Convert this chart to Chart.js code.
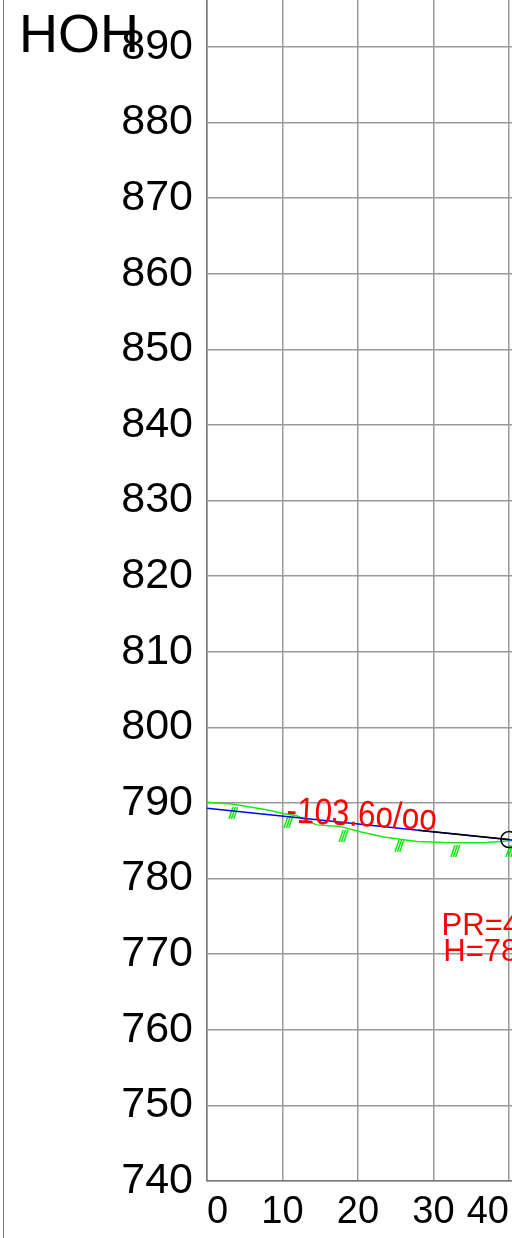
<!DOCTYPE html>
<html>
<head>
    <meta charset="utf-8">
    <script src="https://cdn.jsdelivr.net/npm/chart.js"></script>
    <title>HOH</title>
    <style type="text/css">
        body {
            margin: 0;
            background: #ffffff;
            overflow: hidden;
        }
        .wrap {
            position: relative;
            width: 512px;
            height: 1238px;
        }
        .frame {
            position: absolute;
            left: 3px;
            top: 0;
            width: 1px;
            height: 1238px;
            background: #777777;
        }
        .title {
            position: absolute;
            left: 19px;
            top: 6px;
            font-family: "Liberation Sans", Arial, sans-serif;
            font-size: 54px;
            line-height: 54px;
            color: #000000;
            z-index: 2;
        }
        canvas {
            position: absolute;
            left: 0;
            top: 0;
        }
    </style>
    <script type="text/javascript">
        // ground (green)
        var terrainX = [0, 3.3, 7.9, 10.1, 11.9, 14.5, 17.6, 20.3, 23.4, 27.8, 32.2, 36.6, 40.1, 40.4];
        var terrainY = [790.1, 789.87, 789.1, 788.6, 788.3, 787.1, 786.9, 786.2, 785.5, 784.9, 784.75, 784.75, 785.0, 785.05];
        // design grade (blue) and the black piece before the vertex
        var designX = [0, 40.4];
        var designY = [789.3, 785.11];
        var blackX = [28, 40];
        var blackY = [786.4, 785.16];
        // vertex circle
        var vertexX = [40];
        var vertexY = [785.16];
        // hatch marks under the ground line
        var hatchX = [3.3, 10.6, 17.9, 25.3, 32.7, 40.0];
        var hatchY = [789.47, 788.28, 786.43, 785.11, 784.44, 784.44];
        // ticks
        var xTicks = [0, 10, 20, 30, 40];
        var yTicks = [740, 750, 760, 770, 780, 790, 800, 810, 820, 830, 840, 850, 860, 870, 880, 890];
        // labels
        var slopeText = '-103.6o/oo';
        var slopeAt = [10.46, 787.45];
        var vertexText = ['PR=40.00', 'H=785.16'];
        var vertexTextY = [772.54, 769.1];
    </script>
</head>
<body>
    <div class="wrap">
        <div class="frame"></div>
        <div class="title">HOH</div>
        <canvas id="myChart" width="512" height="1238"></canvas>
    </div>

    <script>
        var FONT = '"Liberation Sans", Arial, sans-serif';

        function pts(xs, ys) {
            return xs.map(function (x, i) { return { x: x, y: ys[i] }; });
        }

        function noPad(s) {
            s.paddingTop = 0;
            s.paddingBottom = 0;
            s.paddingLeft = 0;
            s.paddingRight = 0;
        }

        // small "///" mark, top of the strokes at the centre of the canvas
        var hatch = document.createElement('canvas');
        hatch.width = 16;
        hatch.height = 32;
        var hc = hatch.getContext('2d');
        hc.strokeStyle = '#00e600';
        hc.lineWidth = 1.4;
        for (var i = 0; i < 3; i++) {
            var x0 = 9 + i * 2.4;
            hc.beginPath();
            hc.moveTo(x0, 16);
            hc.lineTo(x0 - 4, 28);
            hc.stroke();
        }

        var labelsPlugin = {
            id: 'labels',
            afterDatasetsDraw: function (chart) {
                var xs = chart.scales.x, ys = chart.scales.y;
                var ctx = chart.ctx;
                ctx.save();
                ctx.fillStyle = '#ff0000';

                // grade text, a bit narrow like the cad font
                ctx.save();
                ctx.translate(xs.getPixelForValue(slopeAt[0]), ys.getPixelForValue(slopeAt[1]));
                ctx.rotate(3 * Math.PI / 180);
                ctx.scale(0.85, 1);
                ctx.font = '37px ' + FONT;
                ctx.textAlign = 'left';
                ctx.textBaseline = 'alphabetic';
                ctx.fillText(slopeText, 0, 0);
                ctx.restore();

                ctx.font = '31px ' + FONT;
                ctx.textAlign = 'center';
                ctx.textBaseline = 'alphabetic';
                for (var k = 0; k < vertexText.length; k++) {
                    ctx.fillText(vertexText[k], xs.getPixelForValue(vertexX[0]) + 2, ys.getPixelForValue(vertexTextY[k]));
                }
                ctx.restore();
            }
        };

        var ctx = document.getElementById('myChart').getContext('2d');
        var myChart = new Chart(ctx, {
            type: 'line',
            data: {
                datasets: [{
                    data: pts(vertexX, vertexY),
                    showLine: false,
                    pointRadius: 8,
                    pointBorderWidth: 1.5,
                    pointBorderColor: '#000000',
                    pointBackgroundColor: 'rgba(0,0,0,0)'
                }, {
                    data: pts(blackX, blackY),
                    borderColor: '#000000',
                    borderWidth: 1.5,
                    pointRadius: 0
                }, {
                    data: pts(designX, designY),
                    borderColor: '#0000ff',
                    borderWidth: 1.5,
                    pointRadius: 0
                }, {
                    data: pts(terrainX, terrainY),
                    borderColor: '#11ee11',
                    borderWidth: 1.5,
                    pointRadius: 0
                }, {
                    data: pts(hatchX, hatchY),
                    showLine: false,
                    pointStyle: hatch,
                    pointRadius: 8
                }]
            },
            options: {
                responsive: false,
                animation: false,
                events: [],
                layout: { padding: 0, autoPadding: false },
                plugins: {
                    legend: { display: false },
                    tooltip: { enabled: false }
                },
                scales: {
                    x: {
                        type: 'linear',
                        min: 0,
                        max: 40.4,
                        afterBuildTicks: function (s) { s.ticks = xTicks.map(function (v) { return { value: v }; }); },
                        afterFit: function (s) { s.height = 57; noPad(s); },
                        grid: { color: '#9a9a9a', lineWidth: 1.5, drawTicks: false, tickLength: 0 },
                        border: { color: '#7a7a7a', width: 1.5 },
                        ticks: {
                            font: { family: FONT, size: 38 },
                            color: '#000000',
                            padding: 9,
                            align: 'inner',
                            autoSkip: false,
                            maxRotation: 0
                        }
                    },
                    y: {
                        type: 'linear',
                        min: 740,
                        max: 896.2,
                        afterBuildTicks: function (s) { s.ticks = yTicks.map(function (v) { return { value: v }; }); },
                        afterFit: function (s) { s.width = 207; noPad(s); },
                        grid: { color: '#9a9a9a', lineWidth: 1.5, drawTicks: false, tickLength: 0 },
                        border: { color: '#7a7a7a', width: 1.5 },
                        ticks: {
                            font: { family: FONT, size: 43 },
                            color: '#000000',
                            padding: 14,
                            autoSkip: false
                        }
                    }
                }
            },
            plugins: [labelsPlugin]
        });
    </script>
</body>
</html>
